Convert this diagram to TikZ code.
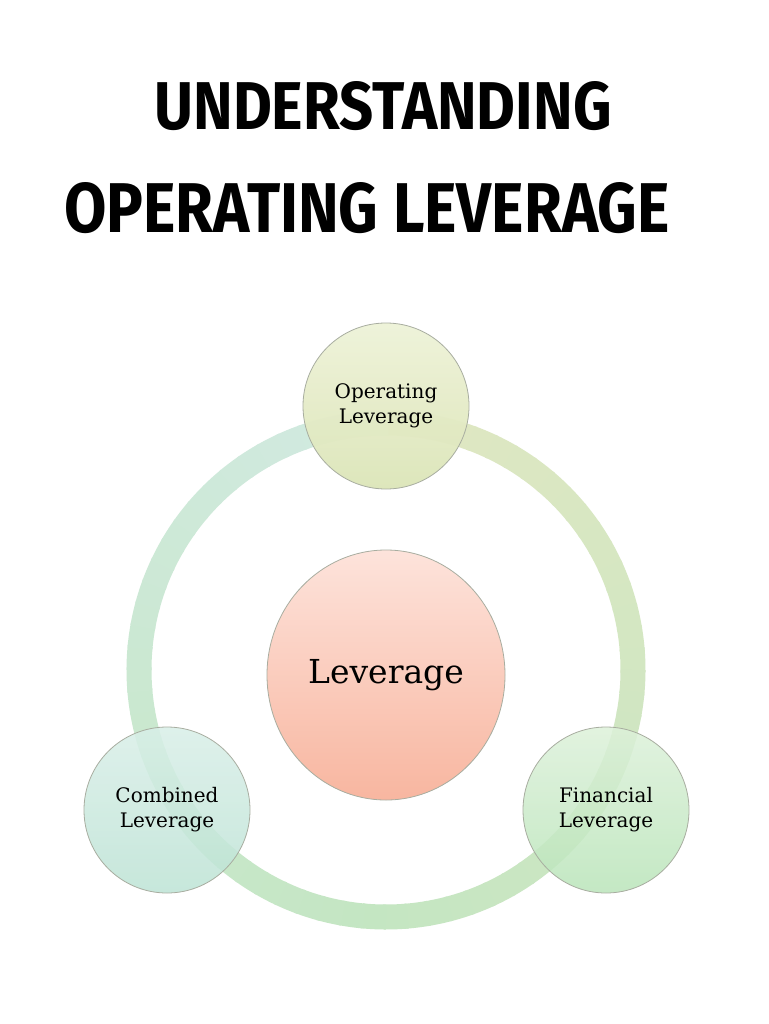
\documentclass[tikz,border=0pt]{standalone}
\usepackage{fontspec}
\setmainfont{DejaVu Serif}
\newfontfamily\titlefont{Fira Sans}
\usepackage{graphicx}
\usetikzlibrary{shapes.geometric}
\definecolor{ringY}{HTML}{E0E7C2}
\definecolor{ringG}{HTML}{C4E6C2}
\definecolor{ringT}{HTML}{D2EAE2}
\definecolor{opTop}{HTML}{EEF3D8}
\definecolor{opBot}{HTML}{DCE5B8}
\definecolor{levTop}{HTML}{FDE3DB}
\definecolor{levBot}{HTML}{F8B6A0}
\definecolor{cbTop}{HTML}{D9EFE8}
\definecolor{cbBot}{HTML}{BDE3D5}
\definecolor{fnTop}{HTML}{DDF1DA}
\definecolor{fnBot}{HTML}{BAE5BA}
\definecolor{rim}{HTML}{A8ADA0}
\tikzset{
  smallc/.style={circle, draw=rim, line width=0.8pt, minimum size=166pt, inner sep=0pt,
    align=center, font=\fontsize{20}{25}\selectfont, text=black},
  titletext/.style={inner sep=0pt, font=\titlefont\bfseries}
}
\begin{document}
\begin{tikzpicture}[x=1pt,y=-1pt]
\useasboundingbox (0,0) rectangle (768,1024);
\fill[white] (0,0) rectangle (768,1024);
% title
\node[titletext] (t1) at (383,106) {\resizebox{457pt}{48pt}{UNDERSTANDING}};
\node[titletext] (t2) at (367,208) {\resizebox{605pt}{50pt}{OPERATING LEVERAGE}};
% ring
\coordinate (rc) at (386,670);
\foreach \a in {-90,-85,...,85} {
  \pgfmathsetmacro\p{(\a+90)/180*100}
  \draw[line width=25pt, color=ringG!\p!ringY] (rc) ++(\a:247) arc[start angle=\a, end angle=\a+5.6, radius=247];
}
\foreach \a in {90,95,...,265} {
  \pgfmathsetmacro\p{(\a-90)/180*100}
  \draw[line width=25pt, color=ringT!\p!ringG] (rc) ++(\a:247) arc[start angle=\a, end angle=\a+5.6, radius=247];
}
% circles
\node[smallc, top color=opTop, bottom color=opBot, fill opacity=0.95, text opacity=1] (op) at (386,406) {Operating\\Leverage};
\node[smallc, top color=cbTop, bottom color=cbBot, fill opacity=0.85, text opacity=1] (cb) at (167,810) {Combined\\Leverage};
\node[smallc, top color=fnTop, bottom color=fnBot, fill opacity=0.85, text opacity=1] (fn) at (606,810) {Financial\\Leverage};
\node[ellipse, draw=rim, line width=0.8pt, minimum width=238pt, minimum height=250pt, inner sep=0pt,
  top color=levTop, bottom color=levBot, font=\fontsize{33}{36}\selectfont, text=black] (lev) at (386,675) {Leverage};
\end{tikzpicture}
\end{document}
